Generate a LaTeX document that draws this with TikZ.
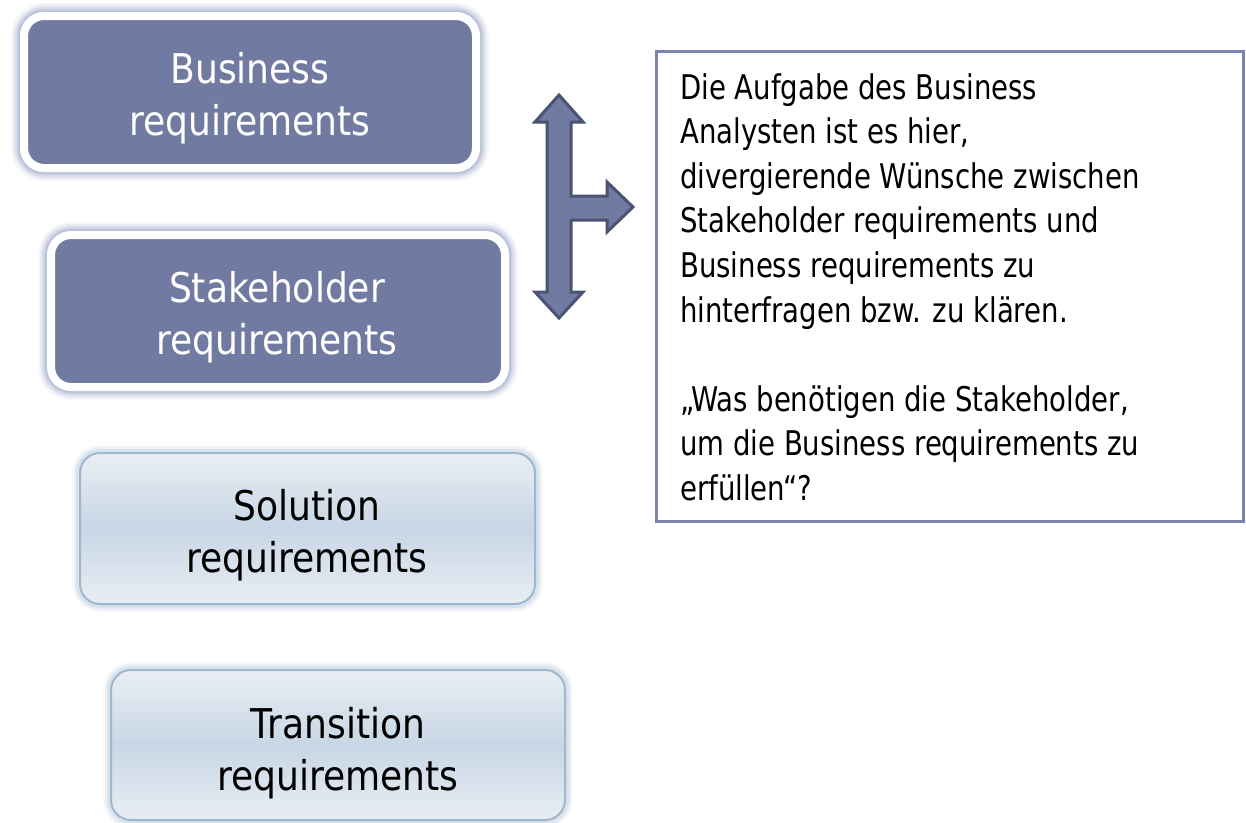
\documentclass[tikz,border=0pt]{standalone}
\usepackage{fontspec}
\setmainfont{DejaVu Sans}[FakeStretch=0.85]
\newfontfamily\boxfont{DejaVu Sans}[FakeStretch=0.88]
\newfontfamily\notefont{DejaVu Sans}[FakeStretch=0.81]
\definecolor{boxdark}{HTML}{717BA1}
\definecolor{glowdark}{HTML}{B9C0D9}
\definecolor{arrowline}{HTML}{4B5372}
\definecolor{frameline}{HTML}{7A83AB}
\definecolor{lightborder}{HTML}{A0B6CC}
\definecolor{lighttop}{HTML}{E9EEF4}
\definecolor{lightmid}{HTML}{C8D6E5}
\definecolor{glowlight}{HTML}{C9D7E5}
\begin{document}
\begin{tikzpicture}[x=1pt,y=-1pt,
  darkbox/.style={draw=white, line width=8, fill=boxdark, rounded corners=20,
    preaction={draw=glowdark!12!white, line width=26},
    preaction={draw=glowdark!30!white, line width=22},
    preaction={draw=glowdark!55!white, line width=18},
    preaction={draw=glowdark!80!white, line width=14},
    preaction={draw=glowdark, line width=11},
    minimum width=452, minimum height=152, inner sep=0},
  lightbox/.style={draw=lightborder, line width=2, rounded corners=20,
    top color=lighttop, bottom color=lighttop, middle color=lightmid,
    preaction={draw=glowlight!15!white, line width=16},
    preaction={draw=glowlight!40!white, line width=12},
    preaction={draw=glowlight!70!white, line width=8},
    minimum width=454, minimum height=150, inner sep=0},
  boxtext/.style={align=center, inner sep=0, font=\boxfont\fontsize{41}{52}\selectfont},
  notetext/.style={align=left, inner sep=0, anchor=north west, font=\notefont\fontsize{34}{44.6}\selectfont},
  arrowshape/.style={fill=boxdark, draw=arrowline, line width=3, line join=miter},
  noteframe/.style={draw=frameline, line width=3}
]
\useasboundingbox (0,0) rectangle (1246,822);

% dark boxes
\node[darkbox] (br) at (250,92) {};
\node[boxtext, text=white] (brt) at (250,98) {Business\\requirements};

\node[darkbox, minimum width=454] (sr) at (278,311) {};
\node[boxtext, text=white] (srt) at (277,317) {Stakeholder\\requirements};

% light boxes
\node[lightbox, minimum width=455, minimum height=151] (sol) at (307.5,528.5) {};
\node[boxtext, text=black] (solt) at (307,535) {Solution\\requirements};

\node[lightbox] (tr) at (338,745) {};
\node[boxtext, text=black] (trt) at (338,753) {Transition\\requirements};

% branched double arrow
\draw[arrowshape] (559,95) -- (583,122) -- (571,122) -- (571,196) -- (607,196) -- (607,182)
  -- (633,207) -- (607,232) -- (607,220) -- (571,220) -- (571,292) -- (583,292)
  -- (559,318) -- (535,292) -- (547,292) -- (547,122) -- (535,122) -- cycle;

% note box
\node[noteframe, minimum width=587, minimum height=470, inner sep=0] (note) at (949.5,286) {};
\node[notetext] (notet) at (680,73) {Die Aufgabe des Business\\Analysten ist es hier,\\divergierende Wünsche zwischen\\Stakeholder requirements und\\Business requirements zu\\hinterfragen bzw. zu klären.\\[44.6pt]„Was benötigen die Stakeholder,\\um die Business requirements zu\\erfüllen“?};
\end{tikzpicture}
\end{document}
